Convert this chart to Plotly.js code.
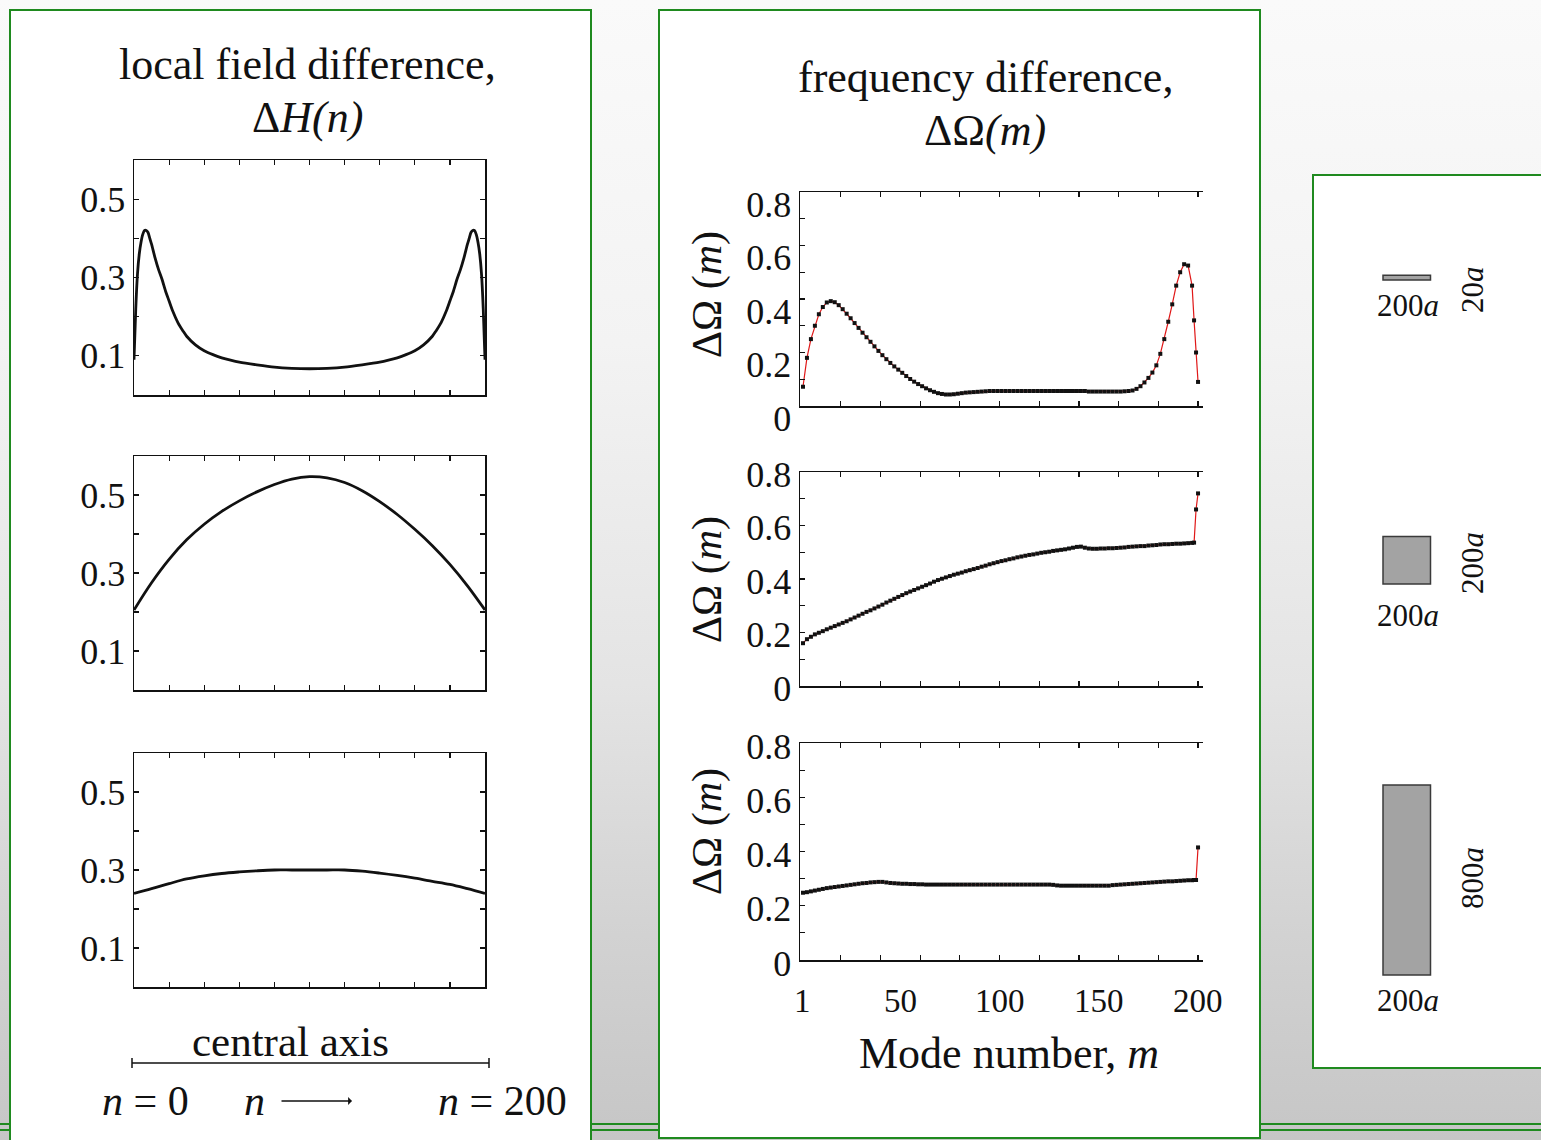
<!DOCTYPE html>
<html><head><meta charset="utf-8">
<script src="https://cdn.plot.ly/plotly-3.0.1.min.js"></script>
<style>html,body{margin:0;padding:0}
body{background:linear-gradient(180deg,#fafafa 0%,#f3f3f3 30%,#e4e4e4 60%,#d2d2d2 82%,#c6c6c6 100%);}
#chart{width:1541px;height:1140px}</style>
</head><body><div id="chart"></div>
<script>
// ---------- DATA ----------
// Left column: local field difference ΔH(n) along the central axis, n = 0..200
const N_EDGE = [0,1,2,3,4,5,6,7,8,9,10,12,14,16,18,20,22,25,28,30,35,40,45,50,55,60,70,80,90,100,
  110,120,130,140,145,150,155,160,165,170,172,175,178,180,182,184,186,188,190,191,192,193,194,195,196,197,198,199,200];
const DH_20 = [0.09,0.22,0.31,0.36,0.39,0.41,0.42,0.42,0.415,0.40,0.385,0.35,0.32,0.295,0.265,0.24,0.215,0.185,0.163,0.15,
  0.128,0.113,0.103,0.095,0.089,0.084,0.077,0.071,0.068,0.067,
  0.068,0.071,0.077,0.084,0.089,0.095,0.103,0.113,0.128,0.15,0.163,0.185,0.215,0.24,0.265,0.295,0.32,0.35,
  0.385,0.40,0.415,0.42,0.42,0.41,0.39,0.36,0.31,0.22,0.09];
const N_BULK = [0,10,20,30,40,50,60,70,80,90,100,110,120,130,140,150,160,170,180,190,200];
const DH_200 = [0.205,0.275,0.335,0.385,0.425,0.458,0.485,0.508,0.527,0.541,0.547,0.544,0.532,0.511,0.483,0.45,0.412,0.37,0.322,0.267,0.205];
const DH_800 = [0.24,0.252,0.265,0.277,0.285,0.291,0.295,0.298,0.3,0.3,0.3,0.3,0.3,0.297,0.292,0.286,0.279,0.271,0.263,0.252,0.24];
const N_TICKS = [20,40,60,80,100,120,140,160,180];
const DH_TICKS = [0.1,0.2,0.3,0.4,0.5];
const DH_TICKTEXT = ['0.1','','0.3','','0.5'];

// Middle column: frequency difference ΔΩ(m) vs mode number m
const MODES = [1,3,5,7,9,11,13,15,17,19,
  21,23,25,27,29,31,33,35,37,39,
  41,43,45,47,49,51,53,55,57,59,
  61,63,65,67,69,71,73,75,77,79,
  81,83,85,87,89,91,93,95,97,99,
  101,103,105,107,109,111,113,115,117,119,
  121,123,125,127,129,131,133,135,137,139,
  141,143,145,147,149,151,153,155,157,159,
  161,163,165,167,169,171,173,175,177,179,
  181,183,185,187,189,191,193,195,197,198,
  199,200];
const DOMEGA_20 = [0.072,0.18,0.25,0.30,0.343,0.37,0.387,0.392,0.388,0.377,
  0.362,0.345,0.328,0.31,0.292,0.274,0.257,0.24,0.223,0.206,
  0.19,0.175,0.161,0.148,0.136,0.124,0.112,0.101,0.091,0.082,
  0.074,0.066,0.059,0.053,0.048,0.045,0.043,0.043,0.044,0.046,
  0.048,0.05,0.051,0.052,0.053,0.054,0.055,0.056,0.056,0.056,
  0.056,0.056,0.056,0.056,0.056,0.056,0.056,0.056,0.056,0.056,
  0.056,0.056,0.056,0.056,0.056,0.056,0.056,0.056,0.056,0.056,
  0.056,0.056,0.054,0.054,0.054,0.054,0.054,0.054,0.054,0.054,
  0.054,0.055,0.056,0.058,0.064,0.074,0.088,0.105,0.125,0.152,
  0.195,0.25,0.315,0.38,0.45,0.5,0.53,0.525,0.45,0.32,
  0.2,0.09];
const DOMEGA_200 = [0.16,0.175,0.184,0.193,0.199,0.205,0.212,0.218,0.224,0.23,
  0.236,0.242,0.249,0.256,0.263,0.27,0.277,0.283,0.29,0.297,
  0.304,0.312,0.319,0.326,0.333,0.34,0.347,0.353,0.359,0.365,
  0.371,0.377,0.383,0.39,0.396,0.401,0.406,0.411,0.416,0.42,
  0.424,0.429,0.433,0.437,0.441,0.446,0.45,0.455,0.459,0.463,
  0.467,0.47,0.474,0.477,0.481,0.484,0.487,0.49,0.492,0.495,
  0.498,0.5,0.502,0.505,0.507,0.509,0.511,0.514,0.517,0.52,
  0.521,0.517,0.514,0.513,0.513,0.514,0.514,0.515,0.515,0.516,
  0.517,0.518,0.52,0.521,0.522,0.523,0.523,0.525,0.526,0.527,
  0.529,0.53,0.53,0.531,0.532,0.532,0.533,0.534,0.535,0.536,
  0.66,0.72];
const DOMEGA_800 = [0.248,0.25,0.253,0.256,0.259,0.262,0.265,0.267,0.269,0.271,
  0.273,0.275,0.277,0.279,0.281,0.283,0.284,0.286,0.287,0.288,
  0.288,0.286,0.284,0.283,0.282,0.281,0.281,0.28,0.28,0.279,
  0.279,0.278,0.278,0.278,0.278,0.278,0.278,0.278,0.278,0.278,
  0.278,0.278,0.278,0.278,0.278,0.278,0.278,0.278,0.278,0.278,
  0.278,0.278,0.278,0.278,0.278,0.278,0.278,0.278,0.278,0.278,
  0.278,0.278,0.278,0.277,0.275,0.274,0.274,0.274,0.274,0.274,
  0.274,0.274,0.274,0.274,0.274,0.274,0.274,0.274,0.276,0.277,
  0.278,0.279,0.28,0.281,0.282,0.283,0.284,0.285,0.286,0.287,
  0.288,0.289,0.29,0.29,0.291,0.292,0.293,0.294,0.294,0.295,
  0.295,0.415];
const M_TICKS = [20,40,60,80,100,120,140,160,180,200];
const M_LABEL_VALS = [1,50,100,150,200];
const M_LABEL_TEXT = ['1','50','100','150','200'];
const DO_TICKS = [0,0.1,0.2,0.3,0.4,0.5,0.6,0.7,0.8];
const DO_TICKTEXT = ['0','','0.2','','0.4','','0.6','','0.8'];

// Right column: sample geometries (width x height, in units of a)
const GEOM_W = [200,200,200];
const GEOM_H = [20,200,800];
const GEOM_W_LABEL = ['200<i>a</i>','200<i>a</i>','200<i>a</i>'];
const GEOM_H_LABEL = ['20<i>a</i>','200<i>a</i>','800<i>a</i>'];

// ---------- LAYOUT HELPERS ----------
const W = 1541, H = 1140;
const FONT = '"Liberation Serif","Times New Roman",serif';
const INK = '#111111';
const GREEN = '#1f8a1f';
const px = x => x / W;
const py = y => 1 - y / H;
const xd = (a, b) => [px(a), px(b)];
const yd = (t, b) => [py(b), py(t)];

const tickFont = {family: FONT, size: 36, color: INK};

function axA_x(dom, anchor) {
  return {domain: dom, anchor: anchor, range: [0, 200], tickmode: 'array', tickvals: N_TICKS,
    ticks: 'inside', ticklen: 5, tickwidth: 1.2, tickcolor: INK, showticklabels: false,
    showline: true, linecolor: INK, linewidth: 1.5, mirror: 'ticks', showgrid: false, zeroline: false, fixedrange: true};
}
function axA_y(dom, anchor) {
  return {domain: dom, anchor: anchor, range: [0, 0.6], tickmode: 'array', tickvals: DH_TICKS, ticktext: DH_TICKTEXT,
    ticks: 'inside', ticklen: 5, tickwidth: 1.2, tickcolor: INK, tickfont: tickFont,
    showline: true, linecolor: INK, linewidth: 1.5, mirror: 'ticks', showgrid: false, zeroline: false, fixedrange: true};
}
function axB_x(dom, anchor) {
  return {domain: dom, anchor: anchor, range: [-0.5, 202.5], tickmode: 'array', tickvals: M_TICKS,
    ticks: 'inside', ticklen: 5, tickwidth: 1.2, tickcolor: INK, showticklabels: false,
    showline: true, linecolor: INK, linewidth: 1.5, mirror: 'ticks', showgrid: false, zeroline: false, fixedrange: true};
}
function axB_y(dom, anchor, shift) {
  return {domain: dom, anchor: anchor, range: [0, 0.8], tickmode: 'array', tickvals: DO_TICKS, ticktext: DO_TICKTEXT,
    ticks: 'inside', ticklen: 5, tickwidth: 1.2, tickcolor: INK, tickfont: tickFont, ticklabelshift: shift || 0,
    showline: true, linecolor: INK, linewidth: 1.5, mirror: false, showgrid: false, zeroline: false, fixedrange: true};
}

// ---------- TRACES ----------
const traces = [
  {x: N_EDGE, y: DH_20, xaxis: 'x', yaxis: 'y', mode: 'lines', line: {color: INK, width: 2.8, shape: 'spline', smoothing: 0.6}, hoverinfo: 'skip', showlegend: false},
  {x: N_BULK, y: DH_200, xaxis: 'x2', yaxis: 'y2', mode: 'lines', line: {color: INK, width: 2.8, shape: 'spline', smoothing: 1}, hoverinfo: 'skip', showlegend: false},
  {x: N_BULK, y: DH_800, xaxis: 'x3', yaxis: 'y3', mode: 'lines', line: {color: INK, width: 2.8, shape: 'spline', smoothing: 1}, hoverinfo: 'skip', showlegend: false}
];
[[DOMEGA_20, 'x4', 'y4'], [DOMEGA_200, 'x5', 'y5'], [DOMEGA_800, 'x6', 'y6']].forEach(([vals, xa, ya]) => {
  traces.push({x: MODES, y: vals, xaxis: xa, yaxis: ya, mode: 'lines+markers',
    line: {color: '#e01818', width: 1.2}, marker: {symbol: 'square', size: 4, color: INK},
    hoverinfo: 'skip', showlegend: false, cliponaxis: false});
});
traces.push({x: [], y: [], xaxis: 'x7', yaxis: 'y7', mode: 'markers', showlegend: false});

// ---------- SHAPES ----------
const shapes = [];
// slide footer lines
[1124, 1130].forEach(y => shapes.push({type: 'line', xref: 'paper', yref: 'paper', x0: 0, x1: 1, y0: py(y), y1: py(y),
  line: {color: GREEN, width: 2.2}, layer: 'below'}));
// white panels with green frames
[[10, 10, 591, 1160], [659, 10, 1260, 1138], [1313, 175, 1560, 1068]].forEach(([l, t, r, b]) =>
  shapes.push({type: 'rect', xref: 'paper', yref: 'paper', x0: px(l), x1: px(r), y0: py(b), y1: py(t),
    fillcolor: '#ffffff', line: {color: GREEN, width: 2}, layer: 'below'}));
// central-axis bracket
shapes.push({type: 'line', xref: 'paper', yref: 'paper', x0: px(132), x1: px(489), y0: py(1063), y1: py(1063), line: {color: INK, width: 1.5}});
[132, 489].forEach(x => shapes.push({type: 'line', xref: 'paper', yref: 'paper', x0: px(x), x1: px(x), y0: py(1058), y1: py(1068), line: {color: INK, width: 1.5}}));
// sample geometries drawn in an equal-scale (a-unit) subplot
const GEOM_CX = 100;               // horizontal centre in a units
const GEOM_BASE = [2989, 1709, 63]; // bottom edges in a units (layout placement)
GEOM_W.forEach((w, i) => shapes.push({type: 'rect', xref: 'x7', yref: 'y7',
  x0: GEOM_CX - w / 2, x1: GEOM_CX + w / 2, y0: GEOM_BASE[i], y1: GEOM_BASE[i] + GEOM_H[i],
  fillcolor: '#a3a3a3', line: {color: '#3a3a3a', width: 1.5}}));

// ---------- ANNOTATIONS ----------
const ann = [];
function txt(x, y, text, size, extra) {
  ann.push(Object.assign({xref: 'paper', yref: 'paper', x: px(x), y: py(y), text: text, showarrow: false,
    xanchor: 'center', yanchor: 'middle', font: {family: FONT, size: size, color: INK}}, extra || {}));
}
txt(307, 65, 'local field difference,', 44);
txt(307, 118, 'Δ<i>H(n)</i>', 44);
txt(985, 78, 'frequency difference,', 44);
txt(985, 130, 'ΔΩ<i>(m)</i>', 44);
[295, 580, 832].forEach(y => txt(707, y, 'ΔΩ (<i>m</i>)', 42, {textangle: -90}));
M_LABEL_VALS.forEach((v, i) => ann.push({xref: 'x6', yref: 'paper', x: v, y: py(1001), text: M_LABEL_TEXT[i],
  showarrow: false, xanchor: 'center', yanchor: 'middle', font: {family: FONT, size: 33, color: INK}}));
txt(1009, 1053, 'Mode number, <i>m</i>', 44);
txt(290, 1041, 'central axis', 43);
txt(145, 1101, '<i>n</i> = 0', 42);
txt(254, 1101, '<i>n</i>', 42);
txt(502, 1101, '<i>n</i> = 200', 42);
ann.push({xref: 'paper', yref: 'paper', x: px(352), y: py(1101), ax: -72, ay: 0, text: '', showarrow: true,
  arrowhead: 1, arrowsize: 1, arrowwidth: 1.3, arrowcolor: INK});
[305, 615, 1000].forEach((y, i) => txt(1408, y, GEOM_W_LABEL[i], 31));
[290, 563, 878].forEach((y, i) => txt(1472, y, GEOM_H_LABEL[i], 31, {textangle: -90}));

// ---------- LAYOUT ----------
const layout = {
  width: W, height: H, margin: {l: 0, r: 0, t: 0, b: 0},
  paper_bgcolor: 'rgba(0,0,0,0)', plot_bgcolor: 'rgba(0,0,0,0)', showlegend: false,
  font: {family: FONT, color: INK},
  xaxis: axA_x(xd(134, 485), 'y'), yaxis: axA_y(yd(160, 395), 'x'),
  xaxis2: axA_x(xd(134, 485), 'y2'), yaxis2: axA_y(yd(456, 690), 'x2'),
  xaxis3: axA_x(xd(134, 485), 'y3'), yaxis3: axA_y(yd(753, 987), 'x3'),
  xaxis4: axB_x(xd(800, 1203), 'y4'), yaxis4: axB_y(yd(192, 406), 'x4', 12),
  xaxis5: axB_x(xd(800, 1203), 'y5'), yaxis5: axB_y(yd(472, 686), 'x5', 2),
  xaxis6: axB_x(xd(800, 1203), 'y6'), yaxis6: axB_y(yd(743, 960), 'x6', 3),
  xaxis7: {domain: xd(1378.25, 1435.25), anchor: 'y7', range: [-20, 220], visible: false, fixedrange: true},
  yaxis7: {domain: yd(270, 990), anchor: 'x7', range: [0, 3031.6], visible: false, fixedrange: true},
  shapes: shapes, annotations: ann
};

Plotly.newPlot('chart', traces, layout, {displayModeBar: false, staticPlot: true});
</script>
</body></html>
